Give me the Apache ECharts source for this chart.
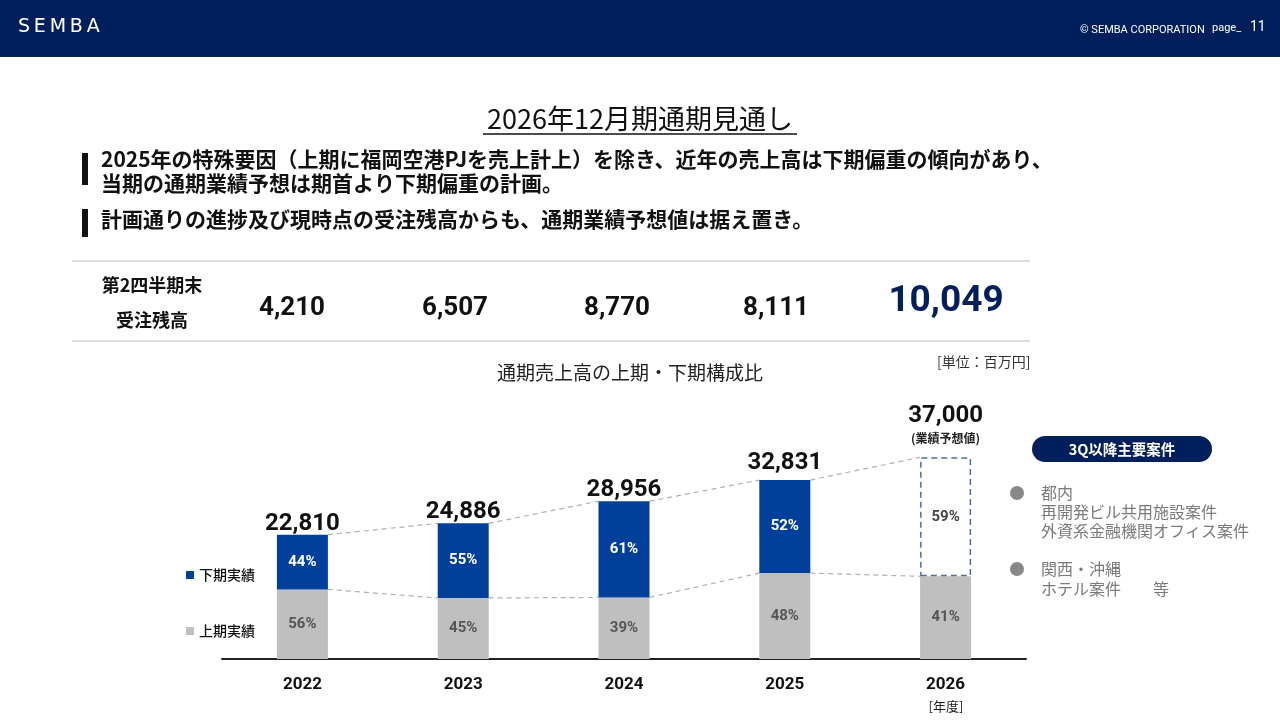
<!DOCTYPE html>
<html>
<head>
<meta charset="utf-8">
<script src="https://cdn.jsdelivr.net/npm/echarts@6/dist/echarts.min.js"></script>
<style>
  html, body { margin: 0; padding: 0; background: #fff; }
  #chart { width: 1280px; height: 720px; }
</style>
</head>
<body>
<div id="chart"></div>
<script>
// data
var years = ['2022', '2023', '2024', '2025', '2026'];
var totals = [22810, 24886, 28956, 32831, 37000];
var firstHalf = [12774, 11199, 11293, 15759, 15170];   // 上期
var secondHalf = [10036, 13687, 17663, 17072, 21830];  // 下期 (2026 = forecast)
var firstPct = ['56%', '45%', '39%', '48%', '41%'];
var secondPct = ['44%', '55%', '61%', '52%', '59%'];
var backlog = [4210, 6507, 8770, 8111, 10049];

var FONT = 'Roboto, "Noto Sans CJK JP", sans-serif';
var JP = '"Noto Sans CJK JP", sans-serif';
var NAVY = '#001f5b';
var BLUE = '#00409a';
var GRAY = '#bfbfbf';
var HALF_BAR = 25.5;

function fmt(n) {
    return n.toLocaleString('en-US');
}

// connectors between neighbouring bars
var topLinks = [];
var midLinks = [];
for (var i = 0; i < years.length - 1; i++) {
    topLinks.push([i, totals[i], totals[i + 1]]);
    midLinks.push([i, firstHalf[i], firstHalf[i + 1]]);
}

function linkRender(params, api) {
    var idx = api.value(0);
    var a = api.coord([idx, api.value(1)]);
    var b = api.coord([idx + 1, api.value(2)]);
    return {
        type: 'line',
        shape: { x1: a[0] + HALF_BAR, y1: a[1], x2: b[0] - HALF_BAR, y2: b[1] },
        style: { stroke: '#b0b0b0', lineWidth: 1.2, lineDash: [5, 4] }
    };
}

function centered(txt, x, y, font, fill) {
    return { type: 'text', x: x, y: y, style: { text: txt, align: 'center', verticalAlign: 'middle', font: font, fill: fill } };
}

var backlogX = [292, 455, 617, 776];
var backlogText = backlog.slice(0, 4).map(function (v, i) {
    return centered(fmt(v), backlogX[i], 308, 'bold 26px ' + FONT, '#111');
});

var chart = echarts.init(document.getElementById('chart'));
var option = {
    animation: false,
    grid: { left: 222, right: 254, top: 441, bottom: 61 },
    xAxis: {
        type: 'category',
        data: years,
        axisTick: { show: false },
        axisLine: { lineStyle: { color: '#222', width: 2 } },
        axisLabel: { margin: 17, fontSize: 17, fontWeight: 'bold', color: '#111', fontFamily: FONT }
    },
    yAxis: { type: 'value', min: 0, max: 40000, show: false, splitLine: { show: false } },
    legend: [
        {
            data: ['下期実績'], left: 181, top: 563, icon: 'rect', itemWidth: 8, itemHeight: 8, itemGap: 4,
            selectedMode: false,
            textStyle: { fontSize: 14, color: '#111', fontFamily: JP, fontWeight: 500 }
        },
        {
            data: ['上期実績'], left: 181, top: 619, icon: 'rect', itemWidth: 8, itemHeight: 8, itemGap: 4,
            selectedMode: false,
            textStyle: { fontSize: 14, color: '#111', fontFamily: JP, fontWeight: 500 }
        }
    ],
    series: [
        {
            name: '上期実績', type: 'bar', stack: 'sales', barWidth: 51,
            itemStyle: { color: GRAY },
            label: {
                show: true, position: 'inside', fontSize: 15, fontWeight: 'bold', color: '#555',
                fontFamily: FONT,
                formatter: function (p) { return firstPct[p.dataIndex]; }
            },
            data: firstHalf
        },
        {
            name: '下期実績', type: 'bar', stack: 'sales', barWidth: 51,
            itemStyle: { color: BLUE },
            label: {
                show: true, position: 'inside', fontSize: 15, fontWeight: 'bold', color: '#fff',
                fontFamily: FONT,
                formatter: function (p) { return secondPct[p.dataIndex]; }
            },
            data: secondHalf.map(function (v, i) {
                if (i < secondHalf.length - 1) return v;
                return {
                    value: v,
                    itemStyle: { color: 'rgba(255,255,255,0)', borderColor: '#4a6fa5', borderWidth: 1.5, borderType: [6, 4] },
                    label: { color: '#444' }
                };
            })
        },
        {
            // totals above the bars
            name: 'total', type: 'custom',
            renderItem: function (params, api) {
                var idx = api.value(0);
                var p = api.coord([idx, api.value(1)]);
                var forecast = idx === years.length - 1;
                var lift = idx === 3 ? 6 : 0; // 2025 label sits a bit higher on the slide
                var els = [{
                    type: 'text',
                    style: {
                        text: fmt(api.value(1)), x: p[0], y: forecast ? p[1] - 29 : p[1] + 1 - lift,
                        textAlign: 'center', textVerticalAlign: 'bottom',
                        font: 'bold 24px ' + FONT, fill: '#111'
                    }
                }];
                if (forecast) {
                    els.push({
                        type: 'text',
                        style: {
                            text: '(業績予想値)', x: p[0], y: p[1] - 13,
                            textAlign: 'center', textVerticalAlign: 'bottom',
                            font: 'bold 12px ' + JP, fill: '#222'
                        }
                    });
                }
                return { type: 'group', children: els };
            },
            data: totals.map(function (v, i) { return [i, v]; }),
            z: 5
        },
        { name: 'topLink', type: 'custom', renderItem: linkRender, data: topLinks, z: 1 },
        { name: 'midLink', type: 'custom', renderItem: linkRender, data: midLinks, z: 1 }
    ],
    graphic: [
        // header band
        { type: 'rect', left: 0, top: 0, shape: { width: 1280, height: 57 }, style: { fill: NAVY } },
        { type: 'text', left: 18, top: 18, style: { text: 'S\u2009E\u2009M\u2009B\u2009A', font: '19px "DejaVu Sans", sans-serif', fill: '#fff' } },
        { type: 'text', left: 1080, top: 25, style: { text: '© SEMBA CORPORATION', font: '11px ' + FONT, fill: '#fff' } },
        { type: 'text', left: 1212, top: 23, style: { text: 'page_', font: '11px ' + FONT, fill: '#fff' } },
        { type: 'text', left: 1250, top: 21, style: { text: '11', font: '14px ' + FONT, fill: '#fff' } },

        // title
        centered('2026年12月期通期見通し', 640, 119, '27px ' + JP, '#111'),
        { type: 'line', shape: { x1: 483, y1: 134, x2: 797, y2: 134 }, style: { stroke: '#111', lineWidth: 1.5 } },

        // bullets
        { type: 'rect', left: 82, top: 153, shape: { width: 6, height: 32 }, style: { fill: '#111' } },
        { type: 'text', left: 101, top: 149, style: { text: '2025年の特殊要因（上期に福岡空港PJを売上計上）を除き、近年の売上高は下期偏重の傾向があり、', font: 'bold 21px ' + JP, fill: '#111' } },
        { type: 'text', left: 101, top: 173, style: { text: '当期の通期業績予想は期首より下期偏重の計画。', font: 'bold 21px ' + JP, fill: '#111' } },
        { type: 'rect', left: 82, top: 209, shape: { width: 6, height: 28 }, style: { fill: '#111' } },
        { type: 'text', left: 101, top: 209, style: { text: '計画通りの進捗及び現時点の受注残高からも、通期業績予想値は据え置き。', font: 'bold 21px ' + JP, fill: '#111' } },

        // backlog row
        { type: 'line', shape: { x1: 72, y1: 261, x2: 1030, y2: 261 }, style: { stroke: '#bbb', lineWidth: 1.2 } },
        { type: 'line', shape: { x1: 72, y1: 341, x2: 1030, y2: 341 }, style: { stroke: '#bbb', lineWidth: 1.2 } },
        centered('第2四半期末', 152, 285, 'bold 18px ' + JP, '#111'),
        centered('受注残高', 152, 320, 'bold 18px ' + JP, '#111')
    ].concat(backlogText).concat([
        centered(fmt(backlog[4]), 946, 302, 'bold 37px ' + FONT, NAVY),

        // chart caption
        centered('通期売上高の上期・下期構成比', 630, 373, '19px ' + JP, '#222'),
        { type: 'text', left: 937, top: 355, style: { text: '[単位：百万円]', font: '14px ' + JP, fill: '#333' } },
        centered('[年度]', 946, 706, '13px ' + JP, '#222'),

        // right panel
        { type: 'rect', left: 1032, top: 436, shape: { width: 180, height: 26, r: 13 }, style: { fill: NAVY } },
        centered('3Q以降主要案件', 1122, 449, 'bold 14.5px ' + JP, '#fff'),
        { type: 'circle', shape: { cx: 1017, cy: 493, r: 7 }, style: { fill: '#888' } },
        { type: 'text', left: 1041, top: 483, style: { text: '都内\n再開発ビル共用施設案件\n外資系金融機関オフィス案件', font: '16px ' + JP, fill: '#7a7a7a', lineHeight: 19 } },
        { type: 'circle', shape: { cx: 1017, cy: 569, r: 7 }, style: { fill: '#888' } },
        { type: 'text', left: 1041, top: 559, style: { text: '関西・沖縄\nホテル案件　　等', font: '16px ' + JP, fill: '#7a7a7a', lineHeight: 20 } }
    ])
};
chart.setOption(option);
</script>
</body>
</html>
